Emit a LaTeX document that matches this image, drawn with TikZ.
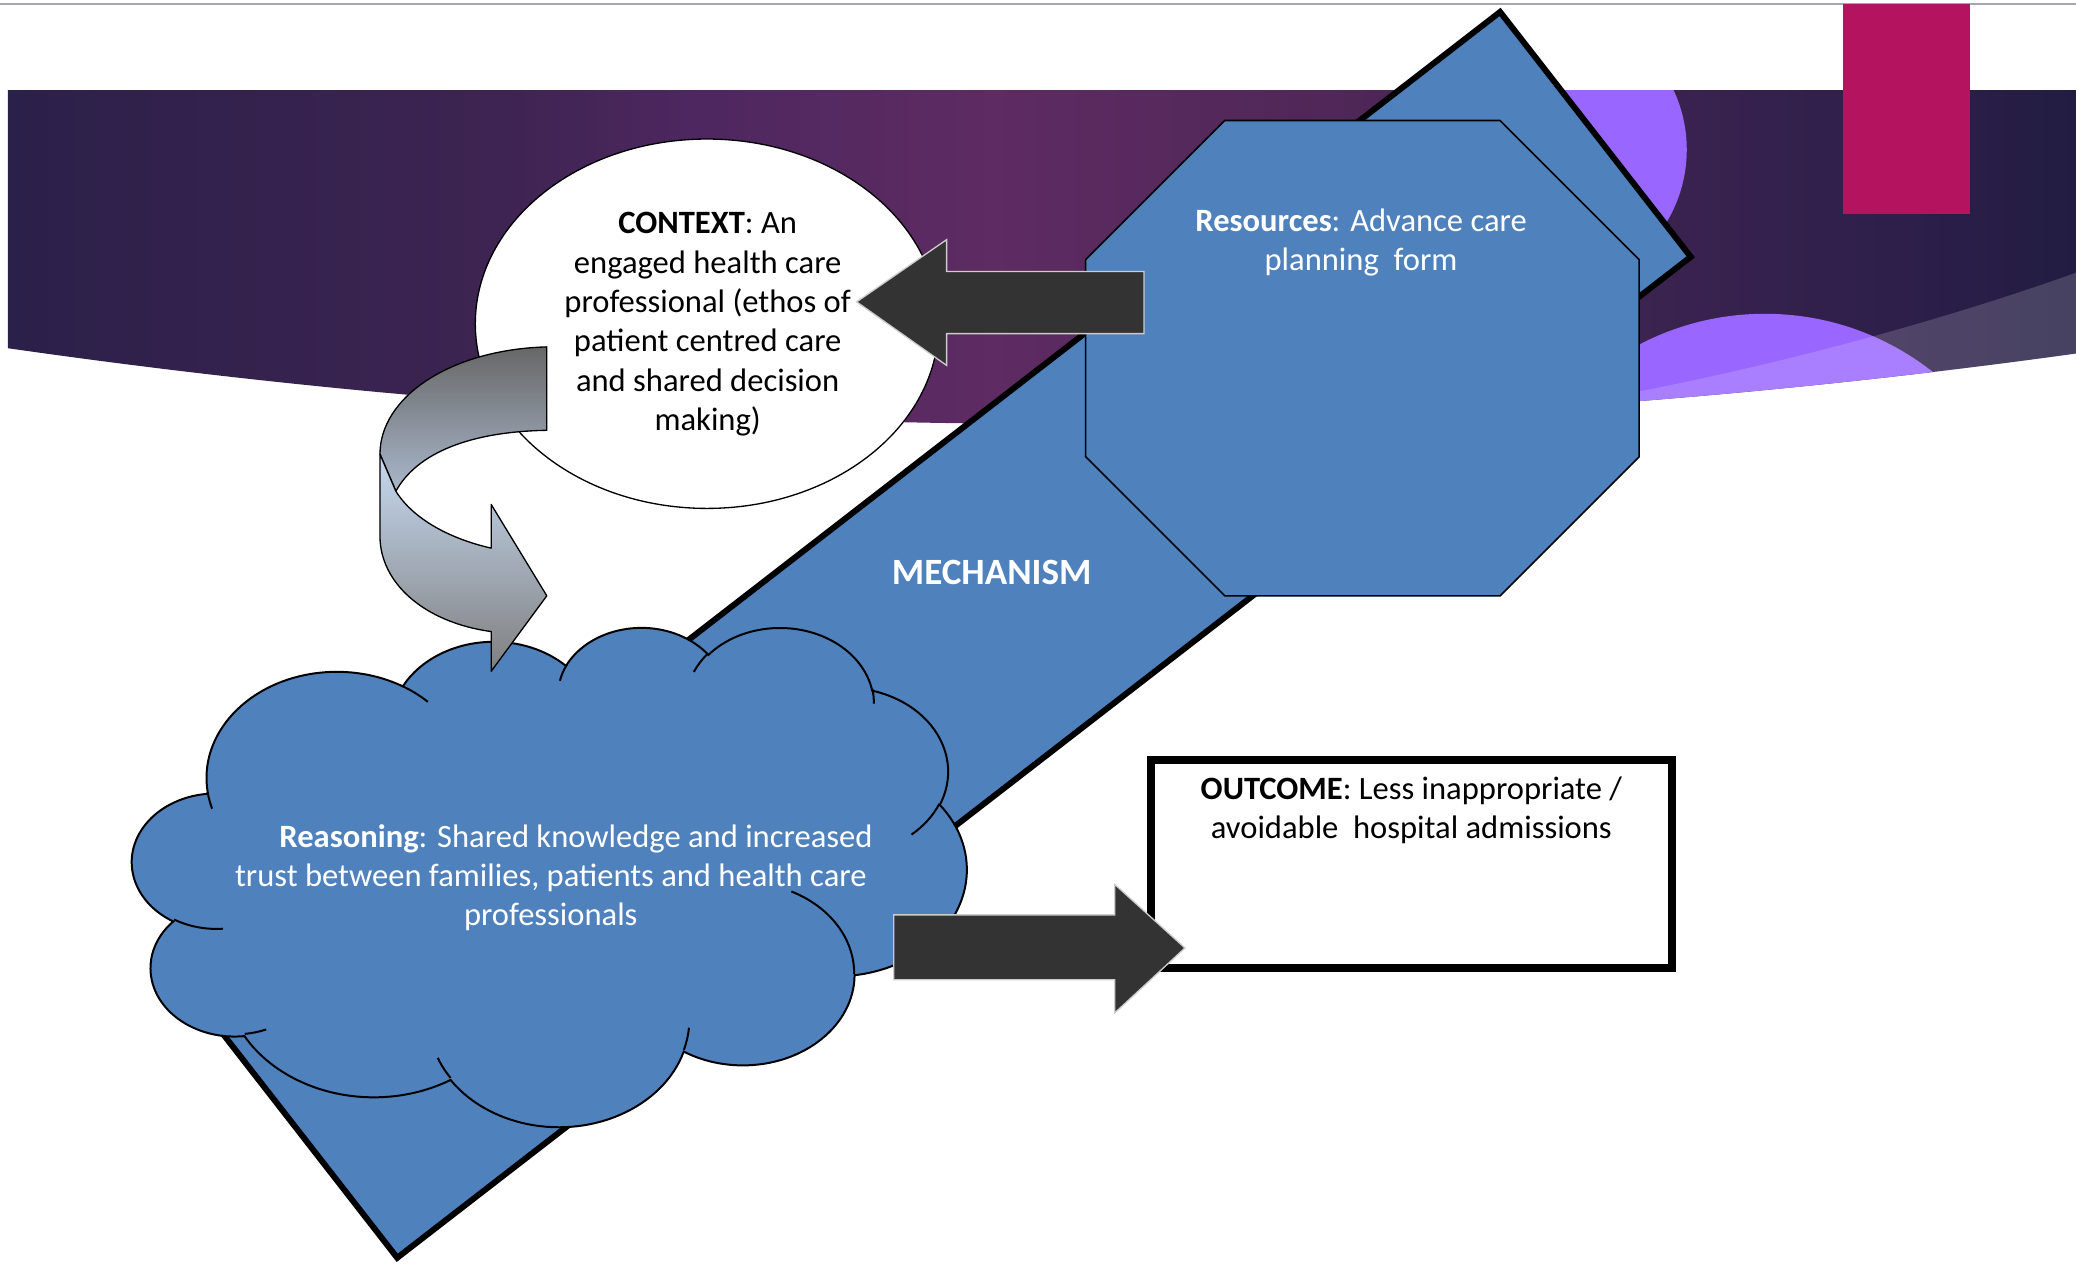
\documentclass[tikz,border=0pt]{standalone}
\usepackage{fontspec}
\setmainfont{Carlito}
\usetikzlibrary{shapes.geometric}
\definecolor{ofblue}{HTML}{4F81BD}
\definecolor{darkarrow}{HTML}{333333}
\definecolor{violetc}{HTML}{9966FF}
\definecolor{magentac}{HTML}{B3135F}
\definecolor{bandL}{HTML}{2B2049}
\definecolor{bandA}{HTML}{3E2452}
\definecolor{bandB}{HTML}{4E2760}
\definecolor{bandM}{HTML}{5E2B62}
\definecolor{bandC}{HTML}{502758}
\definecolor{bandD}{HTML}{3C2350}
\definecolor{bandE}{HTML}{2D1F4A}
\definecolor{bandR}{HTML}{221C42}
\definecolor{topline}{HTML}{A9A4B4}
\definecolor{cuA}{HTML}{676767}
\definecolor{cuB}{HTML}{A9B7CB}
\definecolor{clA}{HTML}{C6D9F1}
\definecolor{clB}{HTML}{B8C9E0}
\definecolor{clC}{HTML}{7F7F7F}

\pgfdeclarehorizontalshading{bandshade}{100bp}{color(0bp)=(bandL); color(25bp)=(bandL); color(37bp)=(bandA); color(41.7bp)=(bandB); color(48.8bp)=(bandM); color(56.8bp)=(bandC); color(64.5bp)=(bandD); color(70.7bp)=(bandE); color(75bp)=(bandR); color(100bp)=(bandR)}

% OOXML-style arcTo: wR hR stAng swAng (visual angles in degrees)
\newcommand\ooArcCalc[4]{%
  \pgfmathparse{atan2((#1)*sin(#3),(#2)*cos(#3))}\xdef\ooA{\pgfmathresult}%
  \pgfmathparse{atan2((#1)*sin((#3)+(#4)),(#2)*cos((#3)+(#4)))}\xdef\ooE{\pgfmathresult}%
  \pgfmathparse{mod(mod((\ooE)-(\ooA),360)+360,360)}\xdef\ooD{\pgfmathresult}%
  \pgfmathparse{(#4)<0 ? (\ooD)-360 : (\ooD)}\xdef\ooD{\pgfmathresult}%
  \pgfmathparse{(\ooA)+(\ooD)}\xdef\ooB{\pgfmathresult}%
}
\newcommand\ooarc[4]{\pgfextra{\ooArcCalc{#1}{#2}{#3}{#4}}arc[start angle=\ooA, end angle=\ooB, x radius=#1, y radius=#2]}

\begin{document}
\begin{tikzpicture}[x=0.5pt,y=-0.5pt,
  bodytext/.style={font=\fontsize{12.3}{14.85}\selectfont, align=center, inner sep=0pt},
  ofshape/.style={fill=ofblue, draw=black, line width=0.6pt},
  blockarrow/.style={fill=darkarrow, draw=white!80!black, line width=0.5pt, line join=miter},
  curvedpart/.style={draw=black, line width=0.5pt, line join=round},
]
\useasboundingbox (0,0) rectangle (1568,954);
\fill[white] (0,0) rectangle (1568,954);

% ---------- background band ----------
\path[shading=bandshade]
  (6,68) -- (1568,68) -- (1568,267) .. controls (1048,339.2) and (527.5,337.9) .. (6,263) -- cycle;
\begin{scope}
  \clip (6,68) -- (1568,68) -- (1568,267) .. controls (1048,339.2) and (527.5,337.9) .. (6,263) -- cycle;
  \fill[violetc] (1168,113) circle[radius=106];
  \fill[violetc] (1333,442) circle[radius=205];
  \fill[white, opacity=0.17] (1150,311) .. controls (1300,288) and (1450,248) .. (1568,206)
     -- (1568,420) -- (1150,420) -- cycle;
\end{scope}
\draw[line width=0.75pt, topline] (0,3) -- (1568,3);
\fill[magentac] (1392,3) rectangle (1488,162);

% ---------- mechanism (tilted rectangle) ----------
\draw[fill=ofblue, line width=2.25pt, line join=miter] (1133,9) -- (1277,194) -- (300,950) -- (156,765) -- cycle;
\node[font=\fontsize{14}{17}\selectfont\bfseries, text=white, inner sep=0pt] (mech) at (749,432) {MECHANISM};

% ---------- resources (octagon) ----------
\draw[ofshape] (925,91) -- (1133,91) -- (1238,196) -- (1238,345) -- (1133,450) -- (925,450) -- (820,345) -- (820,196) -- cycle;
\node[bodytext, text=white] (res) at (1028,183) {\textbf{Resources}: Advance care\\planning\ \ form};

% ---------- context (ellipse) ----------
\node[ellipse, draw=black, fill=white, line width=0.5pt, minimum width=175pt, minimum height=139.5pt, inner sep=0pt] (ctx) at (534,244.5) {};
\node[bodytext, text=black] (ctxtext) at (534.5,245) {\textbf{CONTEXT}: An\\engaged health care\\professional (ethos of\\patient centred care\\and shared decision\\making)};

% ---------- reasoning (cloud) ----------
\begin{scope}[shift={(100,473)}, x=7.29167pt, y=-4.36343pt]
  \draw[fill=ofblue, draw=black, line width=0.75pt] (3.900,14.370)
    \ooarc{6.753}{9.190}{-190.487483}{123.780533}
    \ooarc{5.333}{7.267}{-144.102383}{89.945233}
    \ooarc{4.365}{5.945}{-145.807917}{99.723017}
    \ooarc{4.857}{6.595}{-130.986067}{117.241733}
    \ooarc{5.333}{7.273}{-78.708883}{109.026917}
    \ooarc{6.775}{9.220}{-46.26725}{130.269}
    \ooarc{5.785}{7.867}{0.625017}{114.033333}
    \ooarc{6.752}{9.215}{22.4516}{115.17255}
    \ooarc{7.720}{10.543}{66.242633}{75.711017}
    \ooarc{4.360}{5.918}{-274.942083}{146.735567}
    \ooarc{4.345}{5.945}{-246.8285}{152.51885}
    -- cycle;
  \draw[line width=0.75pt]
    (4.693,26.177) \ooarc{4.345}{5.945}{86.742}{26.4295}
    (6.928,34.899) \ooarc{4.360}{5.918}{73.610467}{11.447467}
    (16.478,39.090) \ooarc{6.752}{9.215}{137.62415}{14.0811}
    (28.827,34.751) \ooarc{6.752}{9.215}{6.453267}{15.99835}
    (34.129,22.954) \ooarc{5.785}{7.867}{-70.29235}{70.917367}
    (41.798,15.354) \ooarc{5.333}{7.273}{30.318033}{27.7515}
    (38.324,5.426) \ooarc{4.857}{6.595}{-13.744333}{14.8589}
    (29.078,3.952) \ooarc{4.857}{6.595}{-149.18145}{18.195367}
    (22.141,4.720) \ooarc{4.365}{5.945}{-163.49427}{17.68635}
    (14.000,5.192) \ooarc{6.753}{9.190}{-66.70695}{12.31935}
    (4.127,15.789) \ooarc{6.753}{9.190}{157.65435}{11.858167};
\end{scope}
\node[bodytext, text=white] (reason) at (416,663) {\hspace*{19pt}\textbf{Reasoning}: Shared knowledge and increased\\trust between families, patients and health care\\professionals};

% ---------- arrow resources -> context ----------
\coordinate (lt) at (647,228);
\draw[blockarrow] (864,205) -- (715,205) -- (715,181) -- (lt) -- (715,276) -- (715,252) -- (864,252) -- cycle;

% ---------- curved arrow context -> reasoning ----------
\path[curvedpart, top color=cuA, bottom color=cuB]
  (413,262) .. controls (340,264) and (287,300) .. (287,343) -- (299,371)
  .. controls (315,342) and (355,326) .. (413,325) -- cycle;
\coordinate (ct) at (413,450);
\path[curvedpart, top color=clA, middle color=clB, bottom color=clC]
  (287,343) -- (287,405) .. controls (287,440) and (320,470) .. (371,477)
  -- (371,507) -- (ct) -- (371,381) -- (371,414)
  .. controls (340,407) and (312,392) .. (299,371) -- cycle;

% ---------- outcome ----------
\node[draw=black, fill=white, line width=3pt, minimum width=197pt, minimum height=78.5pt, inner sep=0pt] (outcome) at (1066,652.5) {};
\node[bodytext, text=black] (outtext) at (1066,612) {\textbf{OUTCOME}: Less inappropriate /\\avoidable\ \ hospital admissions};

% ---------- arrow reasoning -> outcome ----------
\coordinate (rt) at (895,716);
\draw[blockarrow] (675,691) -- (842,691) -- (842,668) -- (rt) -- (842,765) -- (842,740) -- (675,740) -- cycle;
\end{tikzpicture}
\end{document}
